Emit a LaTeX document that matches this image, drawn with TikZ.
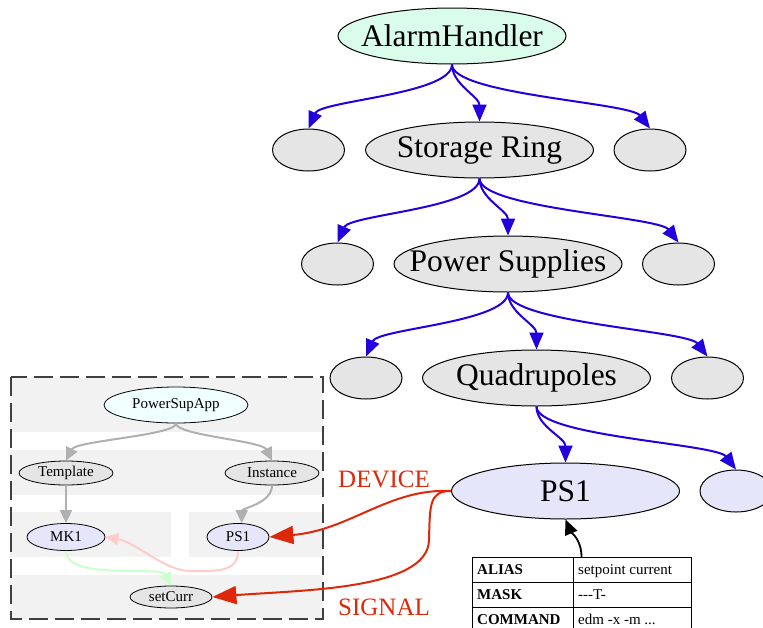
\documentclass[tikz,border=0pt]{standalone}
\usepackage{fontspec}
\setmainfont{Liberation Serif}
\usetikzlibrary{shapes.geometric,arrows.meta}

\definecolor{ahgreen}{RGB}{218,252,234}
\definecolor{nodegray}{RGB}{229,229,229}
\definecolor{lavend}{RGB}{230,230,250}
\definecolor{appcyan}{RGB}{240,255,255}
\definecolor{bandgray}{RGB}{242,242,242}
\definecolor{treeblue}{RGB}{34,0,221}
\definecolor{edgegray}{RGB}{176,176,176}
\definecolor{linkred}{RGB}{222,40,10}
\definecolor{pinkedge}{RGB}{255,204,204}
\definecolor{greenedge}{RGB}{204,255,204}

% keep the label from widening the ellipse
\newcommand{\nodetext}[1]{\makebox[0pt]{#1}}

\tikzset{
  bignode/.style={ellipse, draw, line width=1pt, fill=nodegray, inner sep=0pt,
    minimum width=228pt, minimum height=56pt, font=\fontsize{31.5}{36}\selectfont},
  blank/.style={ellipse, draw, line width=1pt, fill=nodegray, inner sep=0pt,
    minimum width=72pt, minimum height=42pt},
  appnode/.style={ellipse, draw, line width=0.8pt, fill=nodegray, inner sep=0pt,
    minimum height=24pt, font=\fontsize{15}{18}\selectfont},
  treeedge/.style={treeblue, line width=2pt, -{Triangle[length=17pt,width=14pt]}},
  appedge/.style={edgegray, line width=2pt, -{Triangle[length=13pt,width=12pt]}},
  linkedge/.style={linkred, line width=2pt, -{Triangle[length=24pt,width=18pt]}},
  band/.style={fill=bandgray, draw=none},
  cell/.style={anchor=base west, inner sep=0pt, font=\fontsize{15}{18}\selectfont},
  keycell/.style={cell, font=\fontsize{15}{18}\selectfont\bfseries},
}

\begin{document}
\begin{tikzpicture}[x=1pt, y=-1pt]
\useasboundingbox (0,0) rectangle (763,627);

% alarm tree
\node[bignode, fill=ahgreen] (ah) at (452,36) {\nodetext{AlarmHandler}};

\node[blank] (sr-l) at (308.5,150) {};
\node[bignode] (sr) at (479.5,150) {\nodetext{Storage Ring}};
\node[blank] (sr-r) at (650,150) {};

\node[blank] (ps-l) at (337.5,264) {};
\node[bignode] (ps) at (508,264) {\nodetext{Power Supplies}};
\node[blank] (ps-r) at (678.5,264) {};

\node[blank] (q-l) at (366,378) {};
\node[bignode] (q) at (536.5,378) {\nodetext{Quadrupoles}};
\node[blank] (q-r) at (707.5,378) {};

\node[bignode, fill=lavend] (ps1) at (565.5,491) {\nodetext{PS1}};
\node[blank, fill=lavend] (q-rr) at (736,491) {};

\draw[treeedge] (ah.south) .. controls +(0,30) and +(12,-28) .. (sr-l.north);
\draw[treeedge] (ah.south) .. controls +(0,20) and +(0,-25) .. (sr.north);
\draw[treeedge] (ah.south) .. controls +(0,30) and +(-20,-26) .. (sr-r.north);

\draw[treeedge] (sr.south) .. controls +(0,30) and +(12,-28) .. (ps-l.north);
\draw[treeedge] (sr.south) .. controls +(0,20) and +(0,-25) .. (ps.north);
\draw[treeedge] (sr.south) .. controls +(0,30) and +(-20,-26) .. (ps-r.north);

\draw[treeedge] (ps.south) .. controls +(0,30) and +(12,-28) .. (q-l.north);
\draw[treeedge] (ps.south) .. controls +(0,20) and +(0,-25) .. (q.north);
\draw[treeedge] (ps.south) .. controls +(0,30) and +(-20,-26) .. (q-r.north);

\draw[treeedge] (q.south) .. controls +(0,20) and +(0,-25) .. (ps1.north);
\draw[treeedge] (q.south) .. controls +(0,30) and +(-20,-26) .. (q-rr.north);

% application graph
\fill[band] (10,378) rectangle (323,432);
\fill[band] (10,450) rectangle (323,495);
\fill[band] (10,512) rectangle (171,557);
\fill[band] (189,512) rectangle (323,557);
\fill[band] (10,575) rectangle (323,619);
\draw[black!75, line width=1.2pt, dash pattern=on 19pt off 7pt] (11,377) rectangle (323,619);

\node[appnode, fill=appcyan, minimum width=144pt, minimum height=36pt] (app) at (176,405) {PowerSupApp};
\node[appnode, minimum width=94pt] (tmpl) at (66,473) {Template};
\node[appnode, minimum width=94pt] (inst) at (272,473) {Instance};
\node[appnode, fill=lavend, minimum width=78pt, minimum height=27pt] (mk1) at (66,537) {MK1};
\node[appnode, fill=lavend, minimum width=62pt, minimum height=27pt] (ps1s) at (238,537) {PS1};
\node[appnode, minimum width=82pt, minimum height=22pt] (curr) at (171,597) {setCurr};

\draw[appedge] (app.south) .. controls +(0,12) and +(10,-20) .. (tmpl.north);
\draw[appedge] (app.south) .. controls +(0,12) and +(-10,-20) .. (inst.north);
\draw[appedge] (tmpl.south) -- (mk1.north);
\draw[appedge] (inst.south) .. controls +(0,18) and +(0,-15) .. (ps1s.75);

\coordinate (pinkbend) at (190,571);
\draw[appedge, pinkedge] (ps1s.south) .. controls +(0,22) and +(25,0) .. (pinkbend)
  .. controls +(-25,0) and +(30,5) .. (mk1.east);
\draw[appedge, greenedge] (mk1.south) .. controls +(0,30) and +(-10,-20) .. (curr.north);

% links from the tree into the application
\coordinate (sigbend) at (429,540);
\draw[linkedge] (ps1.west) .. controls +(-62,-3) and +(81,-7) .. (ps1s.east);
\draw[linkedge] (ps1.west) .. controls +(-22,0) and +(1,-35) .. (sigbend)
  .. controls +(-1,50) and +(88,-7) .. (curr.east);

\node[anchor=base west, inner sep=0pt, text=linkred, font=\fontsize{25}{30}\selectfont] (devlbl) at (338,487) {DEVICE};
\node[anchor=base west, inner sep=0pt, text=linkred, font=\fontsize{25}{30}\selectfont] (siglbl) at (338,615) {SIGNAL};

% attribute table
\node[draw, line width=1pt, minimum width=219pt, minimum height=75pt, inner sep=0pt, anchor=north] (tbl) at (581.5,557) {};
\draw[line width=1pt] (573,557) -- (573,632);
\draw[line width=1pt] (472,582) -- (691,582);
\draw[line width=1pt] (472,607) -- (691,607);
\foreach \key/\val [count=\i] in {ALIAS/{setpoint current}, MASK/{-{}-{}-T-}, COMMAND/{edm -x -m .{}.{}.}} {
  \node[keycell] at (477,549+25*\i) {\key};
  \node[cell] at (578,549+25*\i) {\val};
}

\draw[line width=1.8pt, -{Triangle[length=15pt,width=13pt]}] (tbl.north) .. controls +(0,-18) and +(5,12) .. (ps1.south);

\end{tikzpicture}
\end{document}
